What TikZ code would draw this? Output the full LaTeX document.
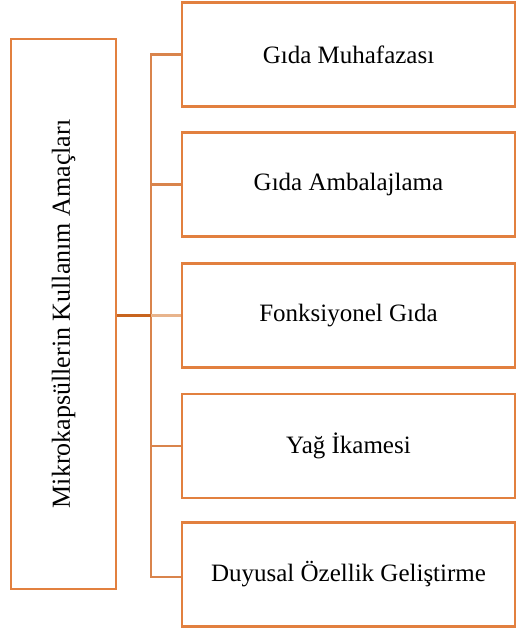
\documentclass[tikz,border=0pt]{standalone}
\usepackage{fontspec}
\setmainfont{Liberation Serif}
\definecolor{boxor}{HTML}{E2803F}
\definecolor{linor}{HTML}{D9844C}
\definecolor{darkor}{HTML}{C8641E}
\definecolor{tanor}{HTML}{E8B48C}
\begin{document}
\begin{tikzpicture}[x=1pt,y=-1pt,
  itembox/.style={draw=boxor,line width=2.6pt,minimum width=333pt,minimum height=104pt,inner sep=0pt,
    font=\fontsize{25}{30}\selectfont,anchor=center},
  mainbox/.style={draw=boxor,line width=2.6pt,minimum width=105pt,minimum height=550pt,inner sep=0pt},
  conn/.style={draw=linor,line width=2.2pt}]
\useasboundingbox (0,0) rectangle (517,632);
\node[mainbox] (m) at (63.5,314) {};
\node[rotate=90,font=\fontsize{26}{30}\selectfont] (mt) at (63.5,314) {Mikrokapsüllerin Kullanım Amaçları};
\node[itembox] (b1) at (348.5,54.5) {Gıda Muhafazası};
\node[itembox] (b2) at (348.5,184.5) {Gıda Ambalajlama};
\node[itembox] (b3) at (348.5,315.5) {Fonksiyonel Gıda};
\node[itembox] (b4) at (348.5,446) {Yağ İkamesi};
\node[itembox] (b5) at (348.5,574.5) {Duyusal Özellik Geliştirme};
\coordinate (vtop) at (151,54.5);
\coordinate (vbot) at (151,577);
\coordinate (vmid) at (151,315.5);
\draw[conn] (b1.west) -- (vtop) -- (vbot) -- (b5.west |- vbot);
\draw[conn] (b2.west) -- (b2.west -| vtop);
\draw[conn] (b4.west) -- (b4.west -| vtop);
\draw[draw=darkor,line width=3.4pt] (m.east |- vmid) -- (vmid);
\draw[draw=tanor,line width=3.4pt] (vmid) -- (b3.west);
\end{tikzpicture}
\end{document}
